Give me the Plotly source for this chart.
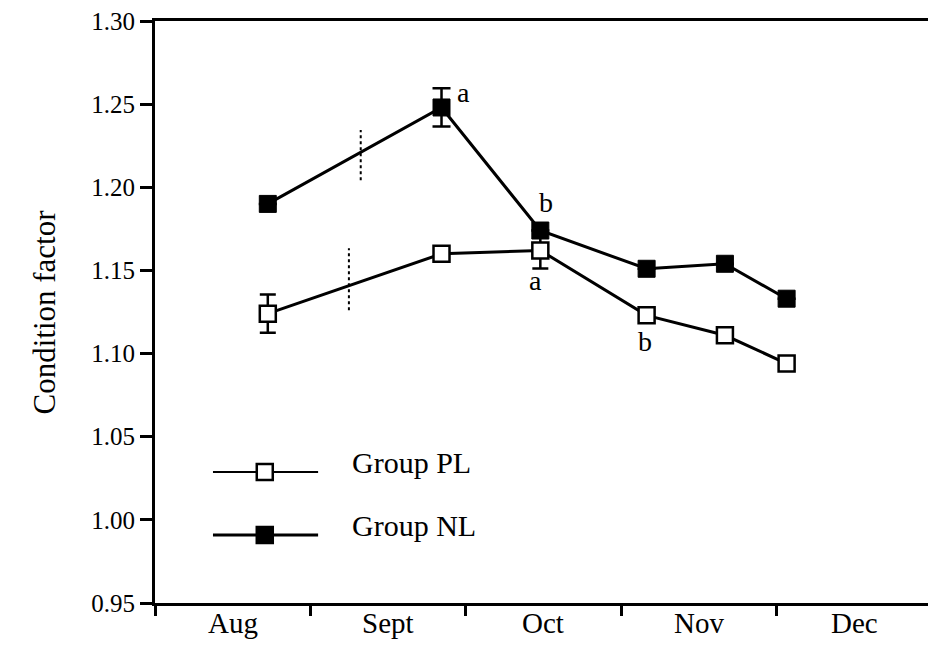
import plotly.graph_objects as go

# ---- data ----
months = ["Aug", "Sept", "Oct", "Nov", "Dec"]
month_pos = [0.5, 1.5, 2.5, 3.5, 4.5]
month_ticks = [0, 1, 2, 3, 4]
y_ticks = [0.95, 1.00, 1.05, 1.10, 1.15, 1.20, 1.25, 1.30]

sample_x = [0.726, 1.844, 2.48, 3.164, 3.668, 4.065]   # sampling dates (months from 1 Aug)
pl_values = [1.124, 1.160, 1.162, 1.123, 1.111, 1.094]
nl_values = [1.190, 1.248, 1.174, 1.151, 1.154, 1.133]
pl_err = [0.0115, 0, 0.0108, 0, 0, 0]
nl_err = [0, 0.0115, 0, 0, 0, 0]

# pooled SE bars (dotted)
se_pl_x = [1.248, 1.248]
se_pl_y = [1.1261, 1.1634]
se_nl_x = [1.324, 1.324]
se_nl_y = [1.2043, 1.2344]

# significance letters: (series, point index, letter)
letters = [("nl", 1, "a"), ("nl", 2, "b"), ("pl", 2, "a"), ("pl", 3, "b")]
letter_shift = {("nl", 1): (22, 15), ("nl", 2): (6, 28), ("pl", 2): (-5, -30), ("pl", 3): (-2, -26)}

FONT = "Liberation Serif"

fig = go.Figure()

fig.add_trace(go.Scatter(x=se_pl_x, y=se_pl_y, mode="lines",
                         line=dict(color="black", width=2, dash="dot"), showlegend=False))
fig.add_trace(go.Scatter(x=se_nl_x, y=se_nl_y, mode="lines",
                         line=dict(color="black", width=2, dash="dot"), showlegend=False))

fig.add_trace(go.Scatter(
    x=sample_x, y=pl_values, mode="lines+markers", name="Group PL",
    line=dict(color="black", width=3),
    marker=dict(symbol="square", size=16, color="white", line=dict(color="black", width=2.5)),
    error_y=dict(type="data", array=pl_err, color="black", thickness=2.5, width=8),
    showlegend=False))
fig.add_trace(go.Scatter(
    x=sample_x, y=nl_values, mode="lines+markers", name="Group NL",
    line=dict(color="black", width=3),
    marker=dict(symbol="square", size=17, color="black", line=dict(color="black", width=1)),
    error_y=dict(type="data", array=nl_err, color="black", thickness=2.5, width=9),
    showlegend=False))

annotations = []
for series, i, txt in letters:
    vals = nl_values if series == "nl" else pl_values
    dx, dy = letter_shift[(series, i)]
    annotations.append(dict(x=sample_x[i], y=vals[i], text=txt, showarrow=False,
                            xshift=dx, yshift=dy, font=dict(family=FONT, size=28, color="black")))

for m, p in zip(months, month_pos):
    annotations.append(dict(x=p, y=0, yref="paper", text=m, showarrow=False, yanchor="top",
                            yshift=-2, font=dict(family=FONT, size=29, color="black")))

annotations.append(dict(x=0, xref="paper", xshift=-131, y=0.5, yref="paper", text="Condition factor",
                        textangle=-90, showarrow=False, font=dict(family=FONT, size=31, color="black")))

# legend (drawn manually)
leg = [("Group PL", 0.225, "white"), ("Group NL", 0.117, "black")]
shapes = []
for name, yy, fill in leg:
    shapes.append(dict(type="line", xref="paper", yref="paper", x0=0.075, x1=0.211, y0=yy, y1=yy,
                       line=dict(color="black", width=3 if fill == "black" else 2)))
    shapes.append(dict(type="rect", xref="paper", yref="paper", xsizemode="pixel", ysizemode="pixel",
                       xanchor=0.142, yanchor=yy, x0=-8, x1=8, y0=-8, y1=8,
                       fillcolor=fill, line=dict(color="black", width=2.5)))
    annotations.append(dict(x=0.252, y=yy, xref="paper", yref="paper", text=name, showarrow=False,
                            xanchor="left", yshift=-9, font=dict(family=FONT, size=30, color="black")))

fig.update_layout(
    width=928, height=645,
    margin=dict(l=155, r=0, t=21, b=42),
    paper_bgcolor="white", plot_bgcolor="white",
    showlegend=False,
    annotations=annotations, shapes=shapes,
    xaxis=dict(range=[0, 4.975], tickvals=month_ticks, ticktext=[""] * len(month_ticks),
               ticks="outside", ticklen=10, tickwidth=3, tickcolor="black",
               showline=True, linewidth=3, linecolor="black", mirror=True,
               showgrid=False, zeroline=False),
    yaxis=dict(range=[0.95, 1.30], tickvals=y_ticks, tickformat=".2f",
               ticks="outside", ticklen=12, tickwidth=3, tickcolor="black",
               showline=True, linewidth=3, linecolor="black",
               showgrid=False, zeroline=False,
               tickfont=dict(family=FONT, size=25, color="black")),
)

fig.write_html("out.html")
